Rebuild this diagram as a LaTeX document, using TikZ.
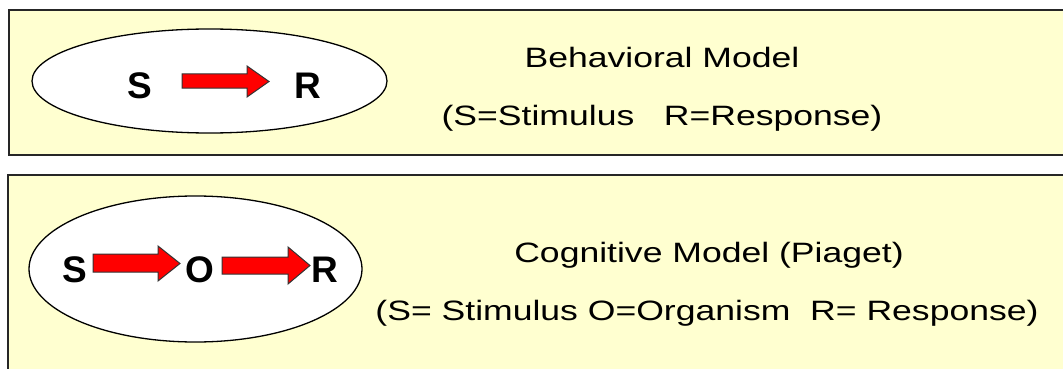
\documentclass[tikz,border=0pt]{standalone}
\usepackage{fontspec}
\setmainfont{Liberation Sans}
\newfontfamily\labfont[FakeStretch=1.27]{Liberation Sans}
\definecolor{boxfill}{HTML}{FFFFD0}
\definecolor{arrred}{HTML}{FF0000}
\tikzset{
  panel/.style={draw=black!85, line width=2pt, fill=boxfill},
  oval/.style={draw=black, line width=1.3pt, fill=white},
  blockarr/.style={draw=black!80, line width=1pt, fill=arrred, line join=miter},
  letter/.style={anchor=base, inner sep=0pt, font=\fontsize{37}{40}\selectfont\bfseries},
  caption/.style={anchor=base, inner sep=0pt, font=\labfont\fontsize{28}{34}\selectfont}
}
\begin{document}
\begin{tikzpicture}[x=1pt,y=-1pt]
\useasboundingbox (0,0) rectangle (1063,369);
\clip (0,0) rectangle (1063,369);
\fill[white] (0,0) rectangle (1063,369);
% panels
\draw[panel] (9,10) rectangle (1075,155);
\draw[panel] (8,175) rectangle (1075,380);
% ellipses
\coordinate (e1) at (209.5,81);
\coordinate (e2) at (195.5,269);
\draw[oval] (e1) ellipse [x radius=177.5, y radius=52];
\draw[oval] (e2) ellipse [x radius=166.5, y radius=73];
% top letters
\node[letter] (s1) at (140,99) {S};
\node[letter] (r1) at (308,99) {R};
% top arrow
\draw[blockarr] (182,74) -- (247,74) -- (247,66) -- (269,81.5) -- (247,97) -- (247,88) -- (182,88) -- cycle;
% bottom letters
\node[letter] (s2) at (75,282) {S};
\node[letter] (o2) at (200,282) {O};
\node[letter] (r2) at (325,282) {R};
% bottom arrows
\draw[blockarr] (93,254) -- (158,254) -- (158,246) -- (180,263.5) -- (158,281) -- (158,272) -- (93,272) -- cycle;
\draw[blockarr] (222,257) -- (288,257) -- (288,247) -- (310,265.5) -- (288,284) -- (288,274) -- (222,274) -- cycle;
% captions
\node[caption] (t1) at (662,68) {Behavioral Model};
\node[caption] (t2) at (662,125) {(S=Stimulus\ \ \ R=Response)};
\node[caption] (t3) at (709,262) {Cognitive Model (Piaget)};
\node[caption] (t4) at (707,320) {(S= Stimulus O=Organism\ \ R= Response)};
\end{tikzpicture}
\end{document}
